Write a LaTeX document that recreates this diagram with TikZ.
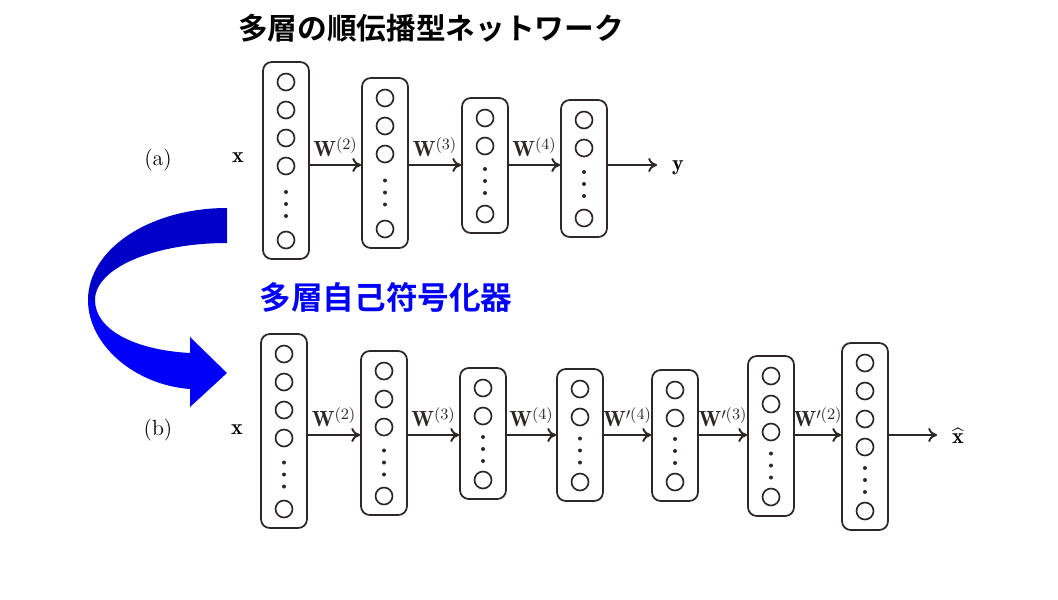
\documentclass[tikz,border=0pt]{standalone}
\usepackage{fontspec}
\usepackage{amsmath}
\usetikzlibrary{arrows.meta,positioning}
\newfontfamily\jpfont{Noto Sans CJK JP}[BoldFont={Noto Sans CJK JP Bold}]
\definecolor{nnLine}{RGB}{45,40,38}
\definecolor{aeBlue}{RGB}{0,0,250}
\definecolor{aeShade}{RGB}{0,0,200}

% one layer: name, x, top, bottom, number of units above the dots
\newcommand{\nnlayer}[5]{%
  \node[layerbox,minimum height={(#4-#3)*0.02cm}] (#1) at (#2,{(#3+#4)/2}) {};
  \foreach \k in {1,...,#5}
    \node[unit] (#1-\k) at (#2,{#3+20+(\k-1)*28}) {};
  \node[unit] (#1-last) at (#2,#4-19) {};
  \pgfmathsetmacro{\dotmid}{(#3+20+(#5-1)*28+#4-19)/2+1}
  \foreach \d in {-12,0,12}
    \fill[nnLine] (#2,\dotmid+\d) circle (2);
}

\begin{document}
\begin{tikzpicture}[x=0.02cm,y=-0.02cm,font=\fontsize{12.5}{15}\selectfont,
  layerbox/.style={draw=nnLine,line width=1pt,rounded corners=5pt,minimum width=0.92cm,inner sep=0pt},
  unit/.style={circle,draw=nnLine,line width=0.95pt,minimum size=0.34cm,inner sep=0pt},
  flow/.style={->,>={To[length=5pt,width=8pt]},line width=1.1pt,nnLine},
  wlab/.style={above=3pt,inner sep=1pt},
  jptitle/.style={font=\jpfont\bfseries\fontsize{16.9}{20}\selectfont}]
  \useasboundingbox (0,0) rectangle (1058,599);

  % titles
  \node[jptitle] (title) at (431,28) {多層の順伝播型ネットワーク};
  \node[jptitle,text=aeBlue,font=\jpfont\bfseries\fontsize{18}{21}\selectfont] (aetitle) at (386,297) {多層自己符号化器};

  % big blue turn arrow
  \fill[aeShade] (227,208) .. controls (150,208) and (88,249) .. (88,300) -- (95,300)
    .. controls (95,268) and (154,243) .. (227,243) -- cycle;
  \fill[aeBlue] (88,300) .. controls (88,345) and (135,385) .. (190,389) -- (190,407) -- (227,373)
    -- (190,337) -- (190,353) .. controls (135,350) and (95,330) .. (95,300) -- cycle;

  % (a) feed-forward network
  \coordinate (rowa) at (0,165);
  \node (taga) at (158,160) {(a)};
  \node (xa) at (238,158) {$\mathbf{x}$};
  \nnlayer{a1}{286}{62}{259}{4}
  \nnlayer{a2}{385}{78}{248}{3}
  \nnlayer{a3}{485}{98}{233}{2}
  \nnlayer{a4}{584}{100}{237}{2}
  \draw[flow] (a1.east |- rowa) -- node[wlab]{$\mathbf{W}^{(2)}$} (a2.west |- rowa);
  \draw[flow] (a2.east |- rowa) -- node[wlab]{$\mathbf{W}^{(3)}$} (a3.west |- rowa);
  \draw[flow] (a3.east |- rowa) -- node[wlab]{$\mathbf{W}^{(4)}$} (a4.west |- rowa);
  \coordinate (yend) at (657,165);
  \draw[flow] (a4.east |- rowa) -- (yend);
  \node (ya) at (678,168) {$\mathbf{y}$};

  % (b) autoencoder
  \coordinate (rowb) at (0,435);
  \node (tagb) at (158,430) {(b)};
  \node (xb) at (237,430) {$\mathbf{x}$};
  \nnlayer{b1}{284}{334}{528}{4}
  \nnlayer{b2}{384}{351}{515}{3}
  \nnlayer{b3}{483}{368}{499}{2}
  \nnlayer{b4}{580}{369}{501}{2}
  \nnlayer{b5}{675}{370}{501}{2}
  \nnlayer{b6}{771}{356}{516}{3}
  \nnlayer{b7}{865}{343}{530}{4}
  \draw[flow] (b1.east |- rowb) -- node[wlab]{$\mathbf{W}^{(2)}$} (b2.west |- rowb);
  \draw[flow] (b2.east |- rowb) -- node[wlab]{$\mathbf{W}^{(3)}$} (b3.west |- rowb);
  \draw[flow] (b3.east |- rowb) -- node[wlab]{$\mathbf{W}^{(4)}$} (b4.west |- rowb);
  \draw[flow] (b4.east |- rowb) -- node[wlab]{$\mathbf{W}'^{(4)}$} (b5.west |- rowb);
  \draw[flow] (b5.east |- rowb) -- node[wlab]{$\mathbf{W}'^{(3)}$} (b6.west |- rowb);
  \draw[flow] (b6.east |- rowb) -- node[wlab]{$\mathbf{W}'^{(2)}$} (b7.west |- rowb);
  \coordinate (xend) at (937,435);
  \draw[flow] (b7.east |- rowb) -- (xend);
  \node (xhat) at (958,436) {$\widehat{\mathbf{x}}$};
\end{tikzpicture}
\end{document}
